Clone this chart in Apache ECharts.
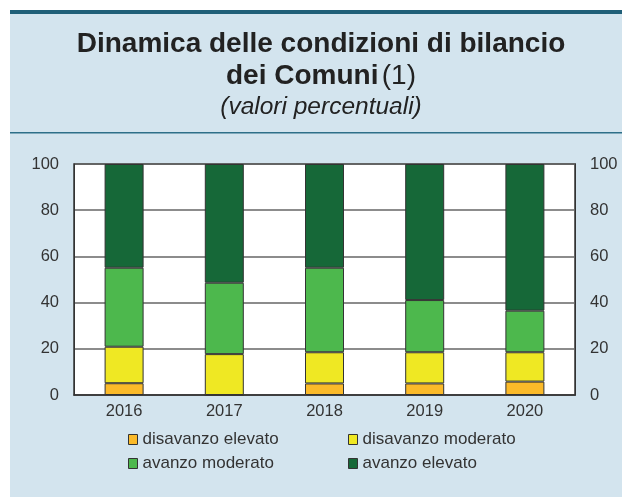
<!DOCTYPE html>
<html>
<head>
<meta charset="utf-8">
<script src="https://cdn.jsdelivr.net/npm/echarts@6/dist/echarts.min.js"></script>
<style>
  html, body { margin: 0; padding: 0; background: #fff; }
  #chart { width: 622px; height: 497px; }
</style>
</head>
<body>
<div id="chart"></div>
<script>
var years = ['2016', '2017', '2018', '2019', '2020'];
var disavanzoElevato = [5.1, 0, 5.0, 5.0, 5.8];
var disavanzoModerato = [15.8, 17.7, 13.5, 13.5, 12.7];
var avanzoModerato = [34.2, 30.9, 36.6, 22.6, 18.0];
var avanzoElevato = [44.9, 51.4, 44.9, 58.9, 63.5];
var yTicks = [0, 20, 40, 60, 80, 100];

var font = 'Liberation Sans, Arial, sans-serif';

var chart = echarts.init(document.getElementById('chart'));

function barSeries(name, data, color) {
	return {
		name: name,
		type: 'bar',
		stack: 'tot',
		barWidth: 39,
		data: data,
		itemStyle: {
			color: color,
			borderColor: '#333',
			borderWidth: 1
		}
	};
}

var yAxisBase = {
	type: 'value',
	min: yTicks[0],
	max: yTicks[yTicks.length - 1],
	interval: 20,
	axisLine: { show: true, lineStyle: { color: '#333', width: 1 } },
	axisTick: { show: false },
	axisLabel: { color: '#333', fontSize: 16.5, fontFamily: font, margin: 15 }
};

var legendBase = {
	orient: 'vertical',
	top: 431,
	padding: 0,
	itemGap: 7,
	itemWidth: 9,
	itemHeight: 10,
	icon: 'rect',
	itemStyle: { borderColor: '#333', borderWidth: 1 },
	textStyle: { color: '#333', fontSize: 17, fontFamily: font }
};

var option = {
	backgroundColor: '#fff',
	animation: false,
	graphic: [
		// sfondo azzurro
		{ type: 'rect', left: 10, top: 12, shape: { width: 612, height: 485 }, style: { fill: '#d3e4ee' }, z: -10 },
		{ type: 'rect', left: 10, top: 10, shape: { width: 612, height: 4 }, style: { fill: '#1f5f78' }, z: -9 },
		{ type: 'rect', left: 10, top: 132, shape: { width: 612, height: 1.5 }, style: { fill: '#2d6f88' }, z: -9 },
		// titolo
		{ type: 'text', x: 321, y: 30, style: { text: 'Dinamica delle condizioni di bilancio', align: 'center', font: 'bold 28px ' + font, fill: '#222' } },
		{ type: 'text', x: 321, y: 62, style: {
			text: '{b|dei Comuni} {n|(1)}',
			align: 'center',
			rich: {
				b: { font: 'bold 28px ' + font, fill: '#222' },
				n: { font: '28px ' + font, fill: '#222' }
			}
		} },
		{ type: 'text', x: 321, y: 95, style: { text: '(valori percentuali)', align: 'center', font: 'italic 24.5px ' + font, fill: '#222' } }
	],
	legend: [
		Object.assign({}, legendBase, { left: 128, data: ['disavanzo elevato', 'avanzo moderato'] }),
		Object.assign({}, legendBase, { left: 348, data: ['disavanzo moderato', 'avanzo elevato'] })
	],
	grid: {
		left: 74,
		right: 47,
		top: 164,
		bottom: 102,
		show: true,
		backgroundColor: '#fff',
		borderColor: '#333',
		borderWidth: 1.5
	},
	xAxis: {
		type: 'category',
		data: years,
		axisLine: { show: true, lineStyle: { color: '#333', width: 1.5 } },
		axisTick: { show: false },
		axisLabel: { color: '#333', fontSize: 16.5, fontFamily: font, margin: 8 }
	},
	yAxis: [
		Object.assign({}, yAxisBase, {
			position: 'left',
			splitLine: { show: true, lineStyle: { color: '#666', width: 1.5 } }
		}),
		Object.assign({}, yAxisBase, {
			position: 'right',
			splitLine: { show: false }
		})
	],
	series: [
		barSeries('disavanzo elevato', disavanzoElevato, '#fbba29'),
		barSeries('disavanzo moderato', disavanzoModerato, '#efe823'),
		barSeries('avanzo moderato', avanzoModerato, '#4db84d'),
		barSeries('avanzo elevato', avanzoElevato, '#166838')
	]
};

chart.setOption(option);
</script>
</body>
</html>
